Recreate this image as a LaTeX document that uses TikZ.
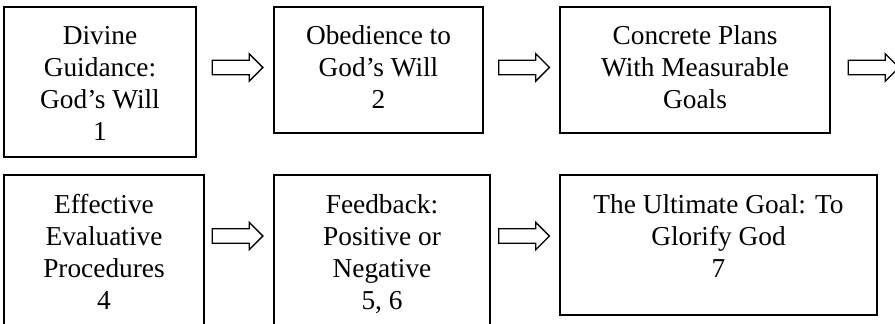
\documentclass[tikz,border=0pt]{standalone}
\usepackage{fontspec}
\setmainfont{Liberation Serif}
\usetikzlibrary{shapes.arrows}
\newcommand{\bxtext}[3]{\parbox[c][#2][t]{#1}{\centering\fontsize{20.5}{24}\selectfont\rule{0pt}{28.5pt}#3}}
\tikzset{
  stagebox/.style={draw=black, line width=1.5pt, inner sep=0pt, anchor=center},
  blockarrow/.style={shape=single arrow, draw=black, line width=1pt, fill=white,
    inner xsep=0pt, inner ysep=4.9pt, text height=0pt, text depth=0pt,
    single arrow head extend=4.9pt, single arrow tip angle=90,
    minimum height=38pt, anchor=center}
}
\begin{document}
\begin{tikzpicture}[x=0.75pt,y=-0.75pt]
\useasboundingbox (0,0) rectangle (895,324);
\fill[white] (0,0) rectangle (895,324);
% top row
\node[stagebox] (b1) at (100,82) {\bxtext{144pt}{112.5pt}{Divine\\Guidance:\\God’s Will\\1}};
\node[stagebox] (b2) at (378.5,70) {\bxtext{156.75pt}{94.5pt}{Obedience to\\God’s Will\\2}};
\node[stagebox] (b3) at (695,70) {\bxtext{202.5pt}{94.5pt}{Concrete Plans\\With Measurable\\Goals}};
% bottom row
\node[stagebox] (b4) at (104,255) {\bxtext{150pt}{120pt}{Effective\\Evaluative\\Procedures\\4}};
\node[stagebox] (b5) at (382,255) {\bxtext{162pt}{120pt}{Feedback:\\Positive or\\Negative\\5, 6}};
\node[stagebox] (b6) at (718.5,245) {\bxtext{237.75pt}{105pt}{The Ultimate Goal: To\\Glorify God\\7}};
% arrows
\node[blockarrow] (a1) at (234,67.5) {};
\node[blockarrow] (a2) at (520.5,67.5) {};
\node[blockarrow] (a3) at (870,67.5) {};
\node[blockarrow] (a4) at (234,236) {};
\node[blockarrow] (a5) at (520.5,236) {};
\end{tikzpicture}
\end{document}
